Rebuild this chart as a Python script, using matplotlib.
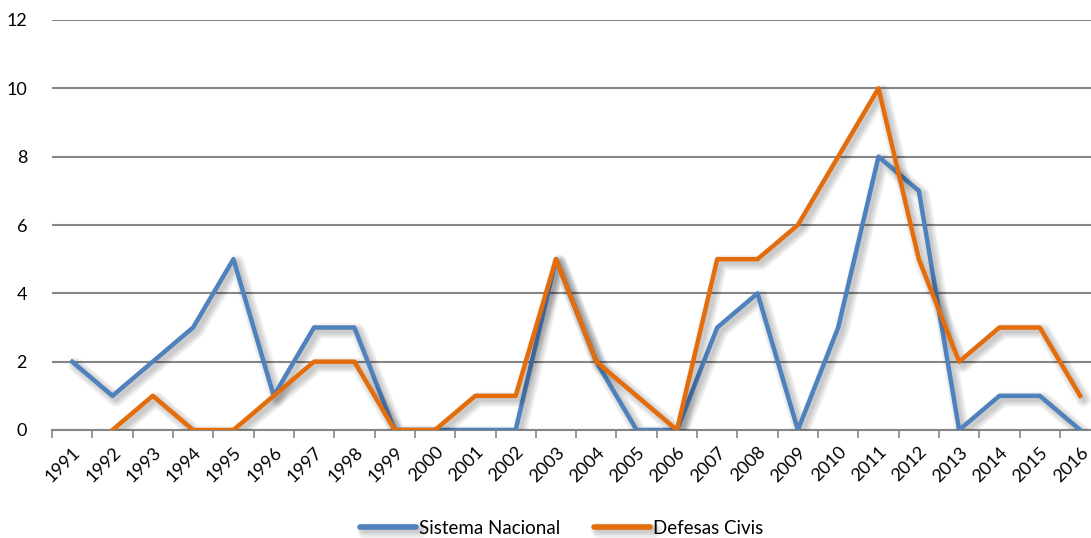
import numpy as np
import matplotlib
matplotlib.use("Agg")
import matplotlib.pyplot as plt
import matplotlib.patheffects as pe

years = [str(y) for y in range(1991, 2017)]
sistema_nacional = [2, 1, 2, 3, 5, 1, 3, 3, 0, 0, 0, 0, 5, 2, 0, 0, 3, 4, 0, 3, 8, 7, 0, 1, 1, 0]
defesas_civis = [np.nan, 0, 1, 0, 0, 1, 2, 2, 0, 0, 1, 1, 5, 2, 1, 0, 5, 5, 6, 8, 10, 5, 2, 3, 3, 1]

plt.rcParams["font.family"] = ["Lato", "DejaVu Sans"]

W, H = 1091, 538
fig = plt.figure(figsize=(W / 100, H / 100), dpi=100)
ax = fig.add_axes([52 / W, (H - 430) / H, 1 - 52 / W, 410 / H])

x = np.arange(len(years))
# soft drop shadow: stacked translucent strokes of growing width
shadow = [pe.SimpleLineShadow(offset=(2.5, -2.5), shadow_color="black", alpha=0.045,
                              linewidth=w, joinstyle="round", capstyle="round")
          for w in (3, 5, 7, 9, 11)] + [pe.Normal()]
ax.plot(x, sistema_nacional, color="#4F81BD", lw=3.2, label="Sistema Nacional",
        path_effects=shadow, zorder=3)
ax.plot(x, defesas_civis, color="#E46C0A", lw=3.2, label="Defesas Civis",
        path_effects=shadow, zorder=4)

ax.set_xlim(-0.5, 25.27)
ax.set_ylim(0, 12)
ax.set_yticks(range(0, 13, 2))
ax.yaxis.grid(True, color="#868686", lw=1.5)
ax.set_axisbelow(True)

ax.set_xticks(x)
ax.set_xticklabels(years, rotation=45, ha="right", rotation_mode="anchor", fontsize=13)
ax.set_xticks(np.arange(-0.5, 25.5, 1), minor=True)
ax.tick_params(axis="x", which="major", length=0, pad=10)
ax.tick_params(axis="x", which="minor", length=6, color="#868686", width=1.2)
ax.tick_params(axis="y", length=0, labelsize=13, pad=18)

for s in ["top", "right", "left"]:
    ax.spines[s].set_visible(False)
ax.spines["bottom"].set_color("#868686")
ax.spines["bottom"].set_linewidth(1.5)

leg = fig.legend(loc="center", bbox_to_anchor=(0.515, 10 / H), ncol=2, frameon=False,
                 fontsize=13.5, handlelength=3.0, handletextpad=0.15, columnspacing=1.8)
for line in leg.get_lines():
    line.set_solid_capstyle("round")
    line.set_linewidth(4)

fig.savefig("out.png", dpi=100)
